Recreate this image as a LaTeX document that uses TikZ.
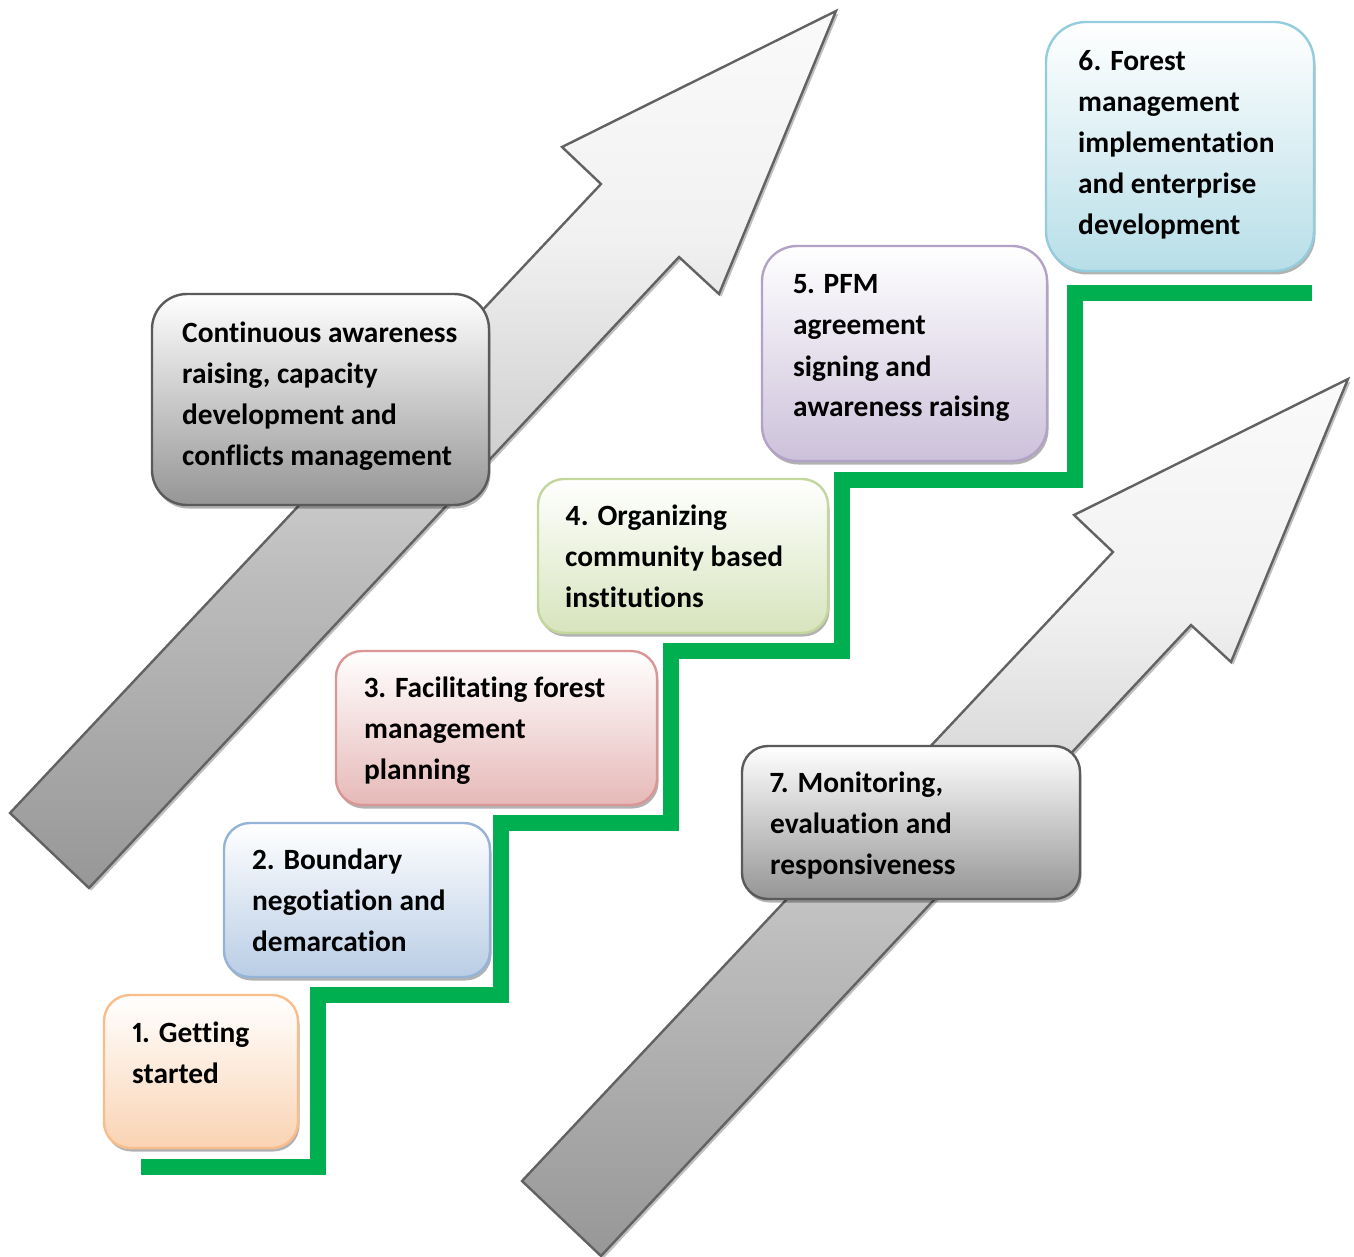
\documentclass[tikz,border=0pt]{standalone}
\usepackage{fontspec}
\setmainfont{Carlito}[Ligatures={NoCommon,NoContextual}, Numbers=Proportional]
\usetikzlibrary{shadows,calc}

% palette
\definecolor{stair}{HTML}{00B050}
\definecolor{arrowline}{HTML}{626262}
\definecolor{arrowtop}{HTML}{FAFAFA}
\definecolor{arrowhigh}{HTML}{F1F1F1}
\definecolor{arrowmid}{HTML}{BCBCBC}
\definecolor{arrowbot}{HTML}{979797}
\definecolor{greyline}{HTML}{5A5A5A}
\definecolor{greyfill}{HTML}{959595}
\definecolor{orangeline}{HTML}{F8BD8B}
\definecolor{orangefill}{HTML}{FAD3B3}
\definecolor{blueline}{HTML}{95B3D7}
\definecolor{bluefill}{HTML}{B9CDE5}
\definecolor{redline}{HTML}{D99694}
\definecolor{redfill}{HTML}{E6B9B8}
\definecolor{greenline}{HTML}{C3D69B}
\definecolor{greenfill}{HTML}{D7E4BD}
\definecolor{purpleline}{HTML}{B3A2C7}
\definecolor{purplefill}{HTML}{CCC1DA}
\definecolor{aqualine}{HTML}{93CDDD}
\definecolor{aquafill}{HTML}{B7DEE8}

% grey fade of the rising arrows: light head, darker tail
\pgfdeclareverticalshading{arrowshade}{100bp}{color(0bp)=(arrowbot); color(25bp)=(arrowbot);
  color(42.6bp)=(arrowmid); color(62bp)=(arrowhigh); color(75bp)=(arrowtop); color(100bp)=(arrowtop)}

% left-aligned lines, first baseline is the box baseline
\newcommand\boxlines[1]{\vtop{\baselineskip=41pt\lineskiplimit=0pt\halign{##\hfil\cr#1\crcr}}}

% outline of the wide upward arrow
\newcommand\upArrowPath{(836,11) -- (719,294) -- (679,257) -- (89,888) -- (10,813) -- (601,184) -- (562,147) -- cycle}

\tikzset{
  stepbox/.style={anchor=north west, inner sep=0pt, outer sep=0pt, line width=2.4pt,
    drop shadow={shadow xshift=1.5pt, shadow yshift=-3.5pt, opacity=0.3, fill=black}},
  tone/.style 2 args={draw=#1, top color=white, bottom color=#2},
  steptext/.style={anchor=base west, inner sep=0pt, font=\fontsize{29.4}{41}\selectfont\bfseries},
  bigarrow/.style={draw=arrowline, line width=2.4pt, line join=miter, shading=arrowshade},
  arrowshadow/.style={fill=black!25},
  stairline/.style={draw=stair, line width=15.5pt, line join=miter, line cap=butt}
}

\begin{document}
\begin{tikzpicture}[x=1pt, y=-1pt]
\useasboundingbox (0,0) rectangle (1354,1257);

% two rising arrows
\fill[arrowshadow, shift={(2.5,2.5)}] \upArrowPath;
\path[bigarrow] \upArrowPath;
\begin{scope}[shift={(512,368)}]
  \fill[arrowshadow, shift={(2.5,2.5)}] \upArrowPath;
  \path[bigarrow] \upArrowPath;
\end{scope}

% green staircase
\draw[stairline] (141,1167) -- (318,1167) -- (318,995) -- (501,995) -- (501,823)
  -- (671,823) -- (671,651) -- (842,651) -- (842,480) -- (1075,480) -- (1075,293) -- (1312,293);

% boxes
\node[stepbox, tone={greyline}{greyfill}, rounded corners=35pt, minimum width=337pt, minimum height=211pt] (cont) at (152,294) {};
\node[stepbox, tone={orangeline}{orangefill}, rounded corners=26pt, minimum width=194pt, minimum height=153pt] (b1) at (104,995) {};
\node[stepbox, tone={blueline}{bluefill}, rounded corners=26pt, minimum width=266pt, minimum height=154pt] (b2) at (224,823) {};
\node[stepbox, tone={redline}{redfill}, rounded corners=26pt, minimum width=321pt, minimum height=154pt] (b3) at (336,651) {};
\node[stepbox, tone={greenline}{greenfill}, rounded corners=26pt, minimum width=290pt, minimum height=154pt] (b4) at (538,479) {};
\node[stepbox, tone={purpleline}{purplefill}, rounded corners=35pt, minimum width=285pt, minimum height=215pt] (b5) at (762,246) {};
\node[stepbox, tone={aqualine}{aquafill}, rounded corners=40pt, minimum width=268pt, minimum height=249pt] (b6) at (1046,22) {};
\node[stepbox, tone={greyline}{greyfill}, rounded corners=26pt, minimum width=338pt, minimum height=153pt] (b7) at (742,746) {};

% labels
\node[steptext] (tcont) at ($(cont.north west)+(30,48)$) {\boxlines{Continuous awareness\cr raising, capacity\cr development and\cr conflicts management}};
\node[steptext] (t1) at ($(b1.north west)+(28,47)$) {\boxlines{1. Getting\cr started}};
\node[steptext] (t2) at ($(b2.north west)+(28,46)$) {\boxlines{2. Boundary\cr negotiation and\cr demarcation}};
\node[steptext] (t3) at ($(b3.north west)+(28,46)$) {\boxlines{3. Facilitating forest\cr management\cr planning}};
\node[steptext] (t4) at ($(b4.north west)+(27,46)$) {\boxlines{4. Organizing\cr community based\cr institutions}};
\node[steptext] (t5) at ($(b5.north west)+(31,48)$) {\boxlines{5. PFM\cr agreement\cr signing and\cr awareness raising}};
\node[steptext] (t6) at ($(b6.north west)+(32,49)$) {\boxlines{6. Forest\cr management\cr implementation\cr and enterprise\cr development}};
\node[steptext] (t7) at ($(b7.north west)+(28,46)$) {\boxlines{7. Monitoring,\cr evaluation and\cr responsiveness}};
\end{tikzpicture}
\end{document}
